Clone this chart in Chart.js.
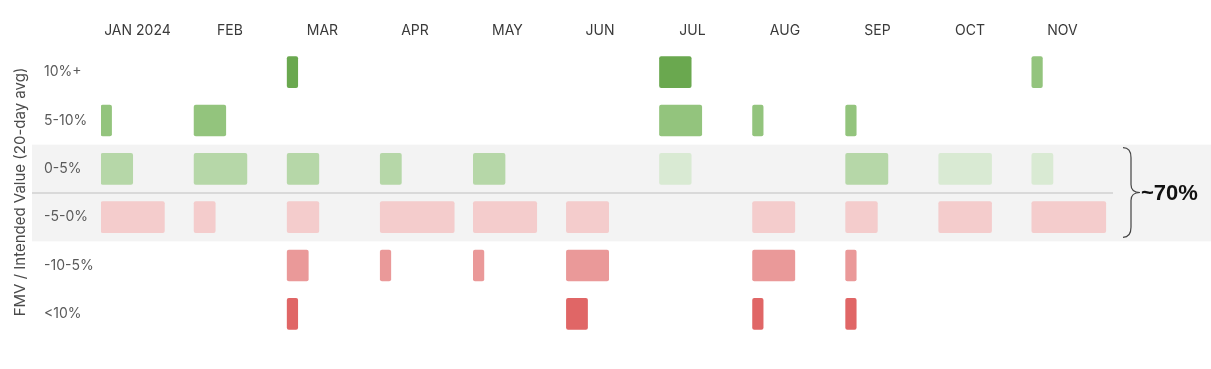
<!DOCTYPE html>
<html>
<head>
<meta charset="utf-8">
<script src="https://cdn.jsdelivr.net/npm/chart.js@4.4.1/dist/chart.umd.min.js"></script>
<style>
  html, body { margin: 0; padding: 0; background: #ffffff; }
  #wrap { width: 1211px; height: 369px; }
</style>
</head>
<body>
<div id="wrap"><canvas id="c" width="1211" height="369"></canvas></div>
<script>
// ---- data ----
const months = ['JAN 2024', 'FEB', 'MAR', 'APR', 'MAY', 'JUN', 'JUL', 'AUG', 'SEP', 'OCT', 'NOV'];
const buckets = ['10%+', '5-10%', '0-5%', '-5-0%', '-10-5%', '<10%'];
const over10 = [0, 0, 1, 0, 0, 0, 3, 0, 0, 0, 1];
const from5to10 = [1, 3, 0, 0, 0, 0, 4, 1, 1, 0, 0];
const from0to5 = [3, 5, 3, 2, 3, 0, 3, 0, 4, 5, 2];
const fromM5to0 = [6, 2, 3, 7, 6, 4, 0, 4, 3, 5, 7];
const fromM10toM5 = [0, 0, 2, 1, 1, 4, 0, 4, 1, 0, 0];
const underM10 = [0, 0, 1, 0, 0, 2, 0, 1, 1, 0, 0];
const lighterOver10Months = ['NOV'];
const lighter0to5Months = ['JUL', 'OCT', 'NOV'];
const yTitle = 'FMV / Intended Value (20-day avg)';
const braceLabel = '~70%';

// ---- layout / style ----
const SPAN = 8.81;          // x-units between month columns
const LABEL0 = 3.45;        // month label offset
const LABEL_STEP = 8.755;
const series = [over10, from5to10, from0to5, fromM5to0, fromM10toM5, underM10];
const colors = ['#6aa84f', '#93c47d', '#b6d7a8', '#f4cccc', '#ea9999', '#e06666'];
const lighter = { 0: ['#93c47d', lighterOver10Months], 2: ['#d9ead3', lighter0to5Months] };

const datasets = buckets.map((b, bi) => ({
  label: b,
  data: series[bi].map((v, mi) => ({ x: [mi * SPAN, mi * SPAN + v], y: b, m: months[mi], v }))
                  .filter(d => d.v > 0),
  backgroundColor: ctx => {
    const r = ctx.raw;
    const l = lighter[bi];
    if (l && r && l[1].includes(r.m)) return l[0];
    return colors[bi];
  },
  grouped: false,
  barThickness: 31,
  borderRadius: 2,
  borderSkipped: false,
  borderWidth: 0
}));

const decor = {
  id: 'decor',
  beforeDraw(chart) {
    const { ctx, scales: { y }, chartArea } = chart;
    const h = y.getPixelForValue(1) - y.getPixelForValue(0);
    const top = y.getPixelForValue(2) - h / 2;
    const bot = y.getPixelForValue(3) + h / 2;
    ctx.save();
    ctx.fillStyle = '#f3f3f3';
    ctx.fillRect(32, top, chart.width - 32, bot - top);
    ctx.strokeStyle = '#d9d9d9';
    ctx.lineWidth = 2;
    const mid = y.getPixelForValue(2) + h / 2;
    ctx.beginPath();
    ctx.moveTo(32, mid);
    ctx.lineTo(chartArea.right + 3, mid);
    ctx.stroke();
    ctx.restore();
  },
  afterDraw(chart) {
    const { ctx, scales: { y }, chartArea } = chart;
    const h = y.getPixelForValue(1) - y.getPixelForValue(0);
    const top = y.getPixelForValue(2) - h / 2 + 3;
    const bot = y.getPixelForValue(3) + h / 2 - 4;
    const mid = (top + bot) / 2;
    ctx.save();
    // y title
    ctx.fillStyle = '#4a4a4a';
    ctx.font = '15px Inter, "Liberation Sans", sans-serif';
    ctx.textAlign = 'center';
    ctx.textBaseline = 'middle';
    ctx.translate(20, 192);
    ctx.rotate(-Math.PI / 2);
    ctx.fillText(yTitle, 0, 0);
    ctx.restore();

    // brace
    ctx.save();
    const x0 = chartArea.right + 13, x1 = x0 + 8, x2 = x0 + 17;
    ctx.strokeStyle = '#444';
    ctx.lineWidth = 1.2;
    ctx.beginPath();
    ctx.moveTo(x0, top);
    ctx.quadraticCurveTo(x1, top, x1, top + 10);
    ctx.lineTo(x1, mid - 8);
    ctx.quadraticCurveTo(x1, mid, x2, mid);
    ctx.quadraticCurveTo(x1, mid, x1, mid + 8);
    ctx.lineTo(x1, bot - 10);
    ctx.quadraticCurveTo(x1, bot, x0, bot);
    ctx.stroke();
    ctx.fillStyle = '#111';
    ctx.font = 'bold 22px "Liberation Sans", Arial, sans-serif';
    ctx.textAlign = 'left';
    ctx.textBaseline = 'middle';
    ctx.fillText(braceLabel, x2 + 1, mid + 1);
    ctx.restore();
  }
};

new Chart(document.getElementById('c'), {
  type: 'bar',
  data: { labels: buckets, datasets },
  options: {
    indexAxis: 'y',
    responsive: false,
    devicePixelRatio: 1,
    animation: false,
    layout: { padding: { left: 44, right: 101, top: 18, bottom: 31 } },
    plugins: { legend: { display: false }, tooltip: { enabled: false } },
    scales: {
      x: {
        type: 'linear',
        position: 'top',
        min: 0,
        max: 95.5,
        bounds: 'data',
        grid: { display: false, drawTicks: false },
        border: { display: false },
        afterBuildTicks: s => { s.ticks = months.map((m, i) => ({ value: LABEL0 + i * LABEL_STEP })); },
        afterFit: s => { s.height = 30; },
        ticks: {
          autoSkip: false,
          maxRotation: 0,
          padding: 9,
          color: '#3a3a3a',
          font: { family: 'Inter, "Liberation Sans", sans-serif', size: 14 },
          callback: (v, i) => months[i]
        }
      },
      y: {
        type: 'category',
        labels: buckets,
        grid: { display: false, drawTicks: false },
        border: { display: false },
        afterFit: s => { s.width = 57; },
        ticks: {
          crossAlign: 'far',
          color: '#5a5a5a',
          font: { family: 'Inter, "Liberation Sans", sans-serif', size: 14 }
        }
      }
    }
  },
  plugins: [decor]
});
</script>
</body>
</html>
